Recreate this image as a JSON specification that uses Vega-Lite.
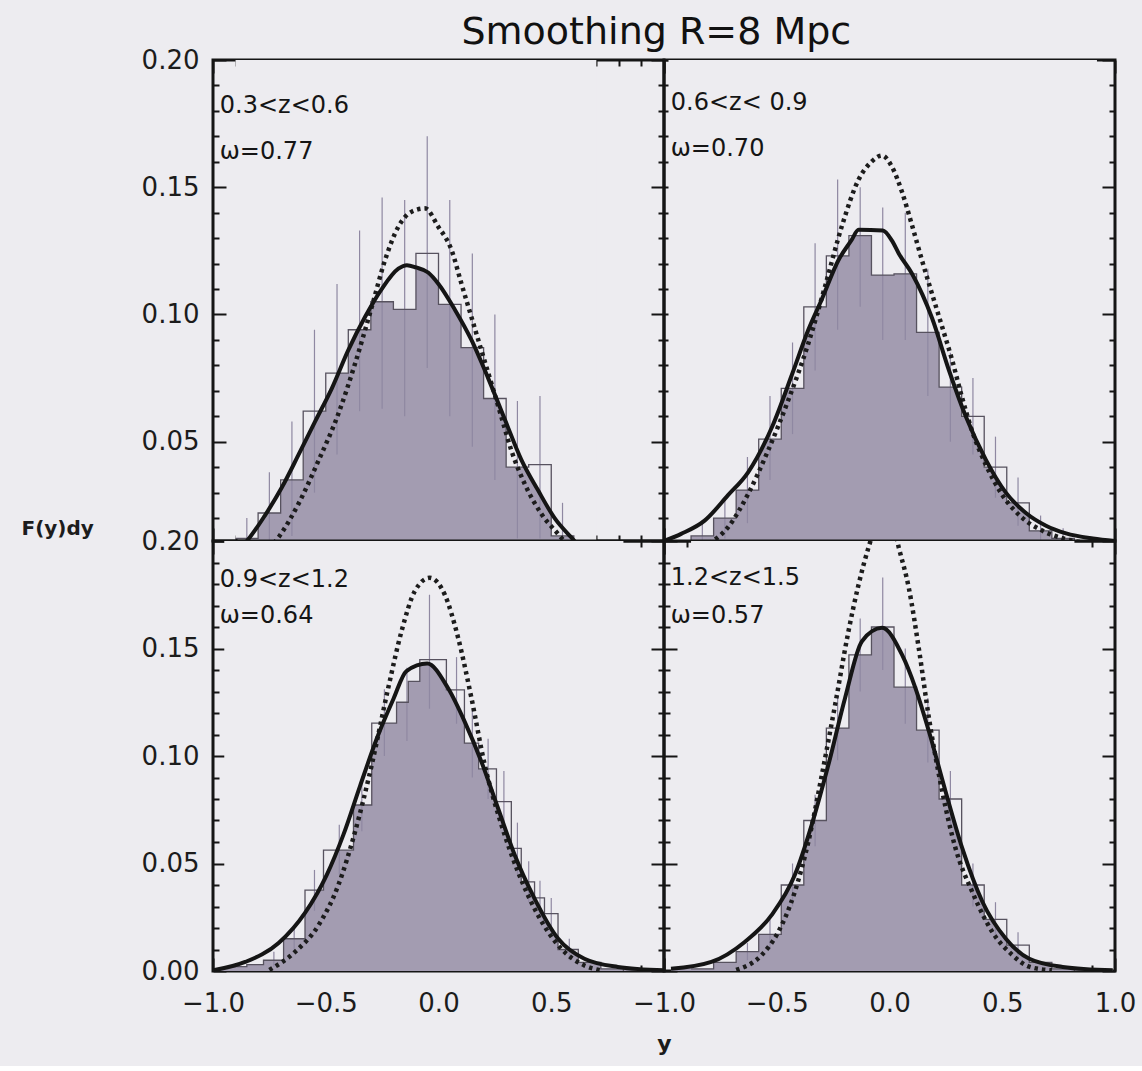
{
  "$schema": "https://vega.github.io/schema/vega-lite/v6.json",
  "background": "#EDECF0",
  "padding": {"left": 19, "top": 13, "right": 10, "bottom": 10},
  "title": {"text": "Smoothing R=8 Mpc", "font": "DejaVu Sans", "fontSize": 38, "fontWeight": "normal", "color": "#111111", "anchor": "middle", "offset": -6, "dx": 78},
  "config": {
    "view": {"stroke": "#151515", "strokeWidth": 3},
    "axis": {"domain": false, "grid": false, "tickColor": "#151515", "tickWidth": 2, "labelFont": "DejaVu Sans", "labelFontSize": 26, "labelColor": "#1c1c1c", "labelOverlap": false, "labelFlush": false, "labelBound": false, "titleFont": "DejaVu Sans", "titleColor": "#1c1c1c"}
  },
  "datasets": {
    "hist": [
      {"p":"TL","e":-0.9,"F":0.012},{"p":"TL","e":-0.8,"F":0.022},{"p":"TL","e":-0.7,"F":0.035},{"p":"TL","e":-0.6,"F":0.062},{"p":"TL","e":-0.5,"F":0.077},{"p":"TL","e":-0.4,"F":0.094},{"p":"TL","e":-0.3,"F":0.105},{"p":"TL","e":-0.2,"F":0.102},{"p":"TL","e":-0.1,"F":0.124},{"p":"TL","e":0.0,"F":0.104},{"p":"TL","e":0.1,"F":0.087},{"p":"TL","e":0.2,"F":0.067},{"p":"TL","e":0.3,"F":0.040},{"p":"TL","e":0.4,"F":0.041},{"p":"TL","e":0.5,"F":0.013},{"p":"TL","e":0.6,"F":0.005},{"p":"TL","e":0.7,"F":0},
      {"p":"TR","e":-0.98,"F":0.010},{"p":"TR","e":-0.88,"F":0.013},{"p":"TR","e":-0.78,"F":0.020},{"p":"TR","e":-0.68,"F":0.031},{"p":"TR","e":-0.58,"F":0.051},{"p":"TR","e":-0.48,"F":0.071},{"p":"TR","e":-0.38,"F":0.103},{"p":"TR","e":-0.28,"F":0.123},{"p":"TR","e":-0.18,"F":0.131},{"p":"TR","e":-0.08,"F":0.1155},{"p":"TR","e":0.02,"F":0.116},{"p":"TR","e":0.12,"F":0.093},{"p":"TR","e":0.22,"F":0.0715},{"p":"TR","e":0.32,"F":0.060},{"p":"TR","e":0.42,"F":0.040},{"p":"TR","e":0.52,"F":0.026},{"p":"TR","e":0.62,"F":0.015},{"p":"TR","e":0.72,"F":0.012},{"p":"TR","e":0.82,"F":0.011},{"p":"TR","e":0.92,"F":0},
      {"p":"BL","e":-0.95,"F":0.002},{"p":"BL","e":-0.85,"F":0.003},{"p":"BL","e":-0.776,"F":0.005},{"p":"BL","e":-0.687,"F":0.015},{"p":"BL","e":-0.592,"F":0.0376},{"p":"BL","e":-0.51,"F":0.0562},{"p":"BL","e":-0.377,"F":0.0772},{"p":"BL","e":-0.296,"F":0.1153},{"p":"BL","e":-0.186,"F":0.125},{"p":"BL","e":-0.134,"F":0.1347},{"p":"BL","e":-0.083,"F":0.1448},{"p":"BL","e":0.035,"F":0.1308},{"p":"BL","e":0.115,"F":0.106},{"p":"BL","e":0.178,"F":0.094},{"p":"BL","e":0.257,"F":0.0788},{"p":"BL","e":0.323,"F":0.057},{"p":"BL","e":0.367,"F":0.0415},{"p":"BL","e":0.426,"F":0.034},{"p":"BL","e":0.47,"F":0.0267},{"p":"BL","e":0.53,"F":0.010},{"p":"BL","e":0.62,"F":0.004},{"p":"BL","e":0.72,"F":0.001},{"p":"BL","e":0.82,"F":0},
      {"p":"BR","e":-0.88,"F":0.001},{"p":"BR","e":-0.78,"F":0.004},{"p":"BR","e":-0.68,"F":0.009},{"p":"BR","e":-0.58,"F":0.017},{"p":"BR","e":-0.48,"F":0.040},{"p":"BR","e":-0.38,"F":0.070},{"p":"BR","e":-0.28,"F":0.113},{"p":"BR","e":-0.18,"F":0.147},{"p":"BR","e":-0.08,"F":0.160},{"p":"BR","e":0.02,"F":0.132},{"p":"BR","e":0.12,"F":0.112},{"p":"BR","e":0.22,"F":0.080},{"p":"BR","e":0.32,"F":0.040},{"p":"BR","e":0.42,"F":0.024},{"p":"BR","e":0.52,"F":0.012},{"p":"BR","e":0.62,"F":0.004},{"p":"BR","e":0.72,"F":0.001},{"p":"BR","e":0.82,"F":0}
    ],
    "err": [
      {"p":"TL","x":-0.85,"lo":0.005,"hi":0.020},{"p":"TL","x":-0.75,"lo":0.008,"hi":0.038},{"p":"TL","x":-0.65,"lo":0.013,"hi":0.058},{"p":"TL","x":-0.55,"lo":0.030,"hi":0.094},{"p":"TL","x":-0.45,"lo":0.045,"hi":0.112},{"p":"TL","x":-0.35,"lo":0.062,"hi":0.133},{"p":"TL","x":-0.25,"lo":0.063,"hi":0.146},{"p":"TL","x":-0.15,"lo":0.060,"hi":0.145},{"p":"TL","x":-0.05,"lo":0.079,"hi":0.170},{"p":"TL","x":0.05,"lo":0.060,"hi":0.145},{"p":"TL","x":0.15,"lo":0.048,"hi":0.124},{"p":"TL","x":0.25,"lo":0.035,"hi":0.100},{"p":"TL","x":0.35,"lo":0.012,"hi":0.066},{"p":"TL","x":0.45,"lo":0.012,"hi":0.068},{"p":"TL","x":0.55,"lo":0.005,"hi":0.026},
      {"p":"TR","x":-0.83,"lo":0.007,"hi":0.019},{"p":"TR","x":-0.73,"lo":0.012,"hi":0.028},{"p":"TR","x":-0.63,"lo":0.018,"hi":0.044},{"p":"TR","x":-0.53,"lo":0.035,"hi":0.068},{"p":"TR","x":-0.43,"lo":0.053,"hi":0.089},{"p":"TR","x":-0.33,"lo":0.078,"hi":0.128},{"p":"TR","x":-0.23,"lo":0.094,"hi":0.153},{"p":"TR","x":-0.13,"lo":0.103,"hi":0.150},{"p":"TR","x":-0.03,"lo":0.090,"hi":0.142},{"p":"TR","x":0.07,"lo":0.090,"hi":0.140},{"p":"TR","x":0.17,"lo":0.068,"hi":0.118},{"p":"TR","x":0.27,"lo":0.050,"hi":0.085},{"p":"TR","x":0.37,"lo":0.045,"hi":0.075},{"p":"TR","x":0.47,"lo":0.028,"hi":0.052},{"p":"TR","x":0.57,"lo":0.017,"hi":0.036},{"p":"TR","x":0.67,"lo":0.009,"hi":0.021},{"p":"TR","x":0.77,"lo":0.008,"hi":0.016},
      {"p":"BL","x":-0.73,"lo":0.002,"hi":0.009},{"p":"BL","x":-0.64,"lo":0.009,"hi":0.021},{"p":"BL","x":-0.55,"lo":0.028,"hi":0.047},{"p":"BL","x":-0.44,"lo":0.045,"hi":0.068},{"p":"BL","x":-0.34,"lo":0.065,"hi":0.090},{"p":"BL","x":-0.24,"lo":0.100,"hi":0.131},{"p":"BL","x":-0.14,"lo":0.107,"hi":0.141},{"p":"BL","x":-0.04,"lo":0.122,"hi":0.175},{"p":"BL","x":0.08,"lo":0.115,"hi":0.146},{"p":"BL","x":0.15,"lo":0.090,"hi":0.122},{"p":"BL","x":0.22,"lo":0.080,"hi":0.108},{"p":"BL","x":0.29,"lo":0.065,"hi":0.093},{"p":"BL","x":0.35,"lo":0.045,"hi":0.069},{"p":"BL","x":0.40,"lo":0.032,"hi":0.051},{"p":"BL","x":0.45,"lo":0.026,"hi":0.042},{"p":"BL","x":0.50,"lo":0.019,"hi":0.034},{"p":"BL","x":0.58,"lo":0.005,"hi":0.015},
      {"p":"BR","x":-0.63,"lo":0.005,"hi":0.013},{"p":"BR","x":-0.53,"lo":0.010,"hi":0.024},{"p":"BR","x":-0.43,"lo":0.030,"hi":0.050},{"p":"BR","x":-0.33,"lo":0.058,"hi":0.082},{"p":"BR","x":-0.23,"lo":0.098,"hi":0.128},{"p":"BR","x":-0.13,"lo":0.130,"hi":0.164},{"p":"BR","x":-0.03,"lo":0.140,"hi":0.183},{"p":"BR","x":0.07,"lo":0.115,"hi":0.150},{"p":"BR","x":0.17,"lo":0.097,"hi":0.127},{"p":"BR","x":0.27,"lo":0.067,"hi":0.093},{"p":"BR","x":0.37,"lo":0.030,"hi":0.050},{"p":"BR","x":0.47,"lo":0.016,"hi":0.032},{"p":"BR","x":0.57,"lo":0.006,"hi":0.018}
    ],
    "curve": [
      {"p":"TL","k":"s","x":-0.95,"F":0.004},{"p":"TL","k":"s","x":-0.85,"F":0.011},{"p":"TL","k":"s","x":-0.77,"F":0.021},{"p":"TL","k":"s","x":-0.695,"F":0.032},{"p":"TL","k":"s","x":-0.62,"F":0.045},{"p":"TL","k":"s","x":-0.547,"F":0.058},{"p":"TL","k":"s","x":-0.473,"F":0.071},{"p":"TL","k":"s","x":-0.40,"F":0.086},{"p":"TL","k":"s","x":-0.326,"F":0.099},{"p":"TL","k":"s","x":-0.252,"F":0.110},{"p":"TL","k":"s","x":-0.178,"F":0.118},{"p":"TL","k":"s","x":-0.14,"F":0.1194},{"p":"TL","k":"s","x":-0.10,"F":0.1185},{"p":"TL","k":"s","x":-0.046,"F":0.1165},{"p":"TL","k":"s","x":0.0,"F":0.112},{"p":"TL","k":"s","x":0.072,"F":0.102},{"p":"TL","k":"s","x":0.146,"F":0.090},{"p":"TL","k":"s","x":0.22,"F":0.075},{"p":"TL","k":"s","x":0.293,"F":0.059},{"p":"TL","k":"s","x":0.367,"F":0.043},{"p":"TL","k":"s","x":0.441,"F":0.031},{"p":"TL","k":"s","x":0.515,"F":0.020},{"p":"TL","k":"s","x":0.588,"F":0.0125},{"p":"TL","k":"s","x":0.66,"F":0.006},{"p":"TL","k":"s","x":0.75,"F":0.002},
      {"p":"TL","k":"d","x":-0.80,"F":0.004},{"p":"TL","k":"d","x":-0.709,"F":0.0125},{"p":"TL","k":"d","x":-0.621,"F":0.0256},{"p":"TL","k":"d","x":-0.532,"F":0.0426},{"p":"TL","k":"d","x":-0.444,"F":0.061},{"p":"TL","k":"d","x":-0.37,"F":0.0807},{"p":"TL","k":"d","x":-0.296,"F":0.103},{"p":"TL","k":"d","x":-0.237,"F":0.1214},{"p":"TL","k":"d","x":-0.178,"F":0.1345},{"p":"TL","k":"d","x":-0.119,"F":0.1404},{"p":"TL","k":"d","x":-0.06,"F":0.1417},{"p":"TL","k":"d","x":-0.001,"F":0.1345},{"p":"TL","k":"d","x":0.058,"F":0.1253},{"p":"TL","k":"d","x":0.102,"F":0.112},{"p":"TL","k":"d","x":0.146,"F":0.099},{"p":"TL","k":"d","x":0.19,"F":0.086},{"p":"TL","k":"d","x":0.235,"F":0.0728},{"p":"TL","k":"d","x":0.279,"F":0.0597},{"p":"TL","k":"d","x":0.323,"F":0.0466},{"p":"TL","k":"d","x":0.382,"F":0.0335},{"p":"TL","k":"d","x":0.456,"F":0.0217},{"p":"TL","k":"d","x":0.53,"F":0.0138},{"p":"TL","k":"d","x":0.60,"F":0.007},{"p":"TL","k":"d","x":0.68,"F":0.003},
      {"p":"TR","k":"s","x":-1.0,"F":0.011},{"p":"TR","k":"s","x":-0.924,"F":0.0138},{"p":"TR","k":"s","x":-0.82,"F":0.019},{"p":"TR","k":"s","x":-0.716,"F":0.029},{"p":"TR","k":"s","x":-0.627,"F":0.038},{"p":"TR","k":"s","x":-0.52,"F":0.056},{"p":"TR","k":"s","x":-0.43,"F":0.077},{"p":"TR","k":"s","x":-0.36,"F":0.094},{"p":"TR","k":"s","x":-0.30,"F":0.106},{"p":"TR","k":"s","x":-0.226,"F":0.1214},{"p":"TR","k":"s","x":-0.17,"F":0.129},{"p":"TR","k":"s","x":-0.137,"F":0.1333},{"p":"TR","k":"s","x":-0.03,"F":0.1330},{"p":"TR","k":"s","x":0.011,"F":0.129},{"p":"TR","k":"s","x":0.041,"F":0.124},{"p":"TR","k":"s","x":0.1,"F":0.116},{"p":"TR","k":"s","x":0.189,"F":0.0985},{"p":"TR","k":"s","x":0.264,"F":0.078},{"p":"TR","k":"s","x":0.338,"F":0.060},{"p":"TR","k":"s","x":0.427,"F":0.043},{"p":"TR","k":"s","x":0.516,"F":0.030},{"p":"TR","k":"s","x":0.605,"F":0.022},{"p":"TR","k":"s","x":0.694,"F":0.017},{"p":"TR","k":"s","x":0.783,"F":0.014},{"p":"TR","k":"s","x":0.902,"F":0.012},{"p":"TR","k":"s","x":1.0,"F":0.011},
      {"p":"TR","k":"d","x":-0.80,"F":0.010},{"p":"TR","k":"d","x":-0.716,"F":0.0164},{"p":"TR","k":"d","x":-0.627,"F":0.0295},{"p":"TR","k":"d","x":-0.538,"F":0.0466},{"p":"TR","k":"d","x":-0.449,"F":0.0663},{"p":"TR","k":"d","x":-0.36,"F":0.0886},{"p":"TR","k":"d","x":-0.286,"F":0.111},{"p":"TR","k":"d","x":-0.212,"F":0.1345},{"p":"TR","k":"d","x":-0.137,"F":0.153},{"p":"TR","k":"d","x":-0.08,"F":0.160},{"p":"TR","k":"d","x":-0.033,"F":0.1625},{"p":"TR","k":"d","x":0.011,"F":0.158},{"p":"TR","k":"d","x":0.056,"F":0.148},{"p":"TR","k":"d","x":0.1,"F":0.135},{"p":"TR","k":"d","x":0.145,"F":0.121},{"p":"TR","k":"d","x":0.189,"F":0.108},{"p":"TR","k":"d","x":0.234,"F":0.095},{"p":"TR","k":"d","x":0.278,"F":0.082},{"p":"TR","k":"d","x":0.323,"F":0.067},{"p":"TR","k":"d","x":0.367,"F":0.054},{"p":"TR","k":"d","x":0.427,"F":0.041},{"p":"TR","k":"d","x":0.501,"F":0.029},{"p":"TR","k":"d","x":0.59,"F":0.020},{"p":"TR","k":"d","x":0.679,"F":0.015},{"p":"TR","k":"d","x":0.78,"F":0.0118},{"p":"TR","k":"d","x":0.85,"F":0.0105},
      {"p":"BL","k":"s","x":-1.0,"F":0.0003},{"p":"BL","k":"s","x":-0.857,"F":0.0042},{"p":"BL","k":"s","x":-0.709,"F":0.013},{"p":"BL","k":"s","x":-0.592,"F":0.027},{"p":"BL","k":"s","x":-0.496,"F":0.0446},{"p":"BL","k":"s","x":-0.422,"F":0.0633},{"p":"BL","k":"s","x":-0.348,"F":0.086},{"p":"BL","k":"s","x":-0.274,"F":0.108},{"p":"BL","k":"s","x":-0.20,"F":0.1265},{"p":"BL","k":"s","x":-0.142,"F":0.1395},{"p":"BL","k":"s","x":-0.05,"F":0.1430},{"p":"BL","k":"s","x":0.042,"F":0.1316},{"p":"BL","k":"s","x":0.116,"F":0.116},{"p":"BL","k":"s","x":0.19,"F":0.0974},{"p":"BL","k":"s","x":0.264,"F":0.0757},{"p":"BL","k":"s","x":0.338,"F":0.054},{"p":"BL","k":"s","x":0.426,"F":0.0337},{"p":"BL","k":"s","x":0.53,"F":0.0151},{"p":"BL","k":"s","x":0.647,"F":0.0057},{"p":"BL","k":"s","x":0.795,"F":0.0019},{"p":"BL","k":"s","x":1.0,"F":0.0003},
      {"p":"BL","k":"d","x":-0.75,"F":0.0005},{"p":"BL","k":"d","x":-0.636,"F":0.0089},{"p":"BL","k":"d","x":-0.532,"F":0.0213},{"p":"BL","k":"d","x":-0.444,"F":0.040},{"p":"BL","k":"d","x":-0.37,"F":0.0648},{"p":"BL","k":"d","x":-0.296,"F":0.0959},{"p":"BL","k":"d","x":-0.223,"F":0.1316},{"p":"BL","k":"d","x":-0.164,"F":0.158},{"p":"BL","k":"d","x":-0.105,"F":0.1767},{"p":"BL","k":"d","x":-0.039,"F":0.1829},{"p":"BL","k":"d","x":0.028,"F":0.175},{"p":"BL","k":"d","x":0.087,"F":0.155},{"p":"BL","k":"d","x":0.146,"F":0.127},{"p":"BL","k":"d","x":0.205,"F":0.0959},{"p":"BL","k":"d","x":0.279,"F":0.068},{"p":"BL","k":"d","x":0.353,"F":0.046},{"p":"BL","k":"d","x":0.441,"F":0.026},{"p":"BL","k":"d","x":0.544,"F":0.0104},{"p":"BL","k":"d","x":0.647,"F":0.0026},{"p":"BL","k":"d","x":0.72,"F":0.0003},
      {"p":"BR","k":"s","x":-0.969,"F":0.001},{"p":"BR","k":"s","x":-0.79,"F":0.0042},{"p":"BR","k":"s","x":-0.642,"F":0.0135},{"p":"BR","k":"s","x":-0.523,"F":0.026},{"p":"BR","k":"s","x":-0.42,"F":0.0446},{"p":"BR","k":"s","x":-0.345,"F":0.068},{"p":"BR","k":"s","x":-0.271,"F":0.0959},{"p":"BR","k":"s","x":-0.197,"F":0.127},{"p":"BR","k":"s","x":-0.122,"F":0.1534},{"p":"BR","k":"s","x":-0.033,"F":0.1596},{"p":"BR","k":"s","x":0.056,"F":0.147},{"p":"BR","k":"s","x":0.115,"F":0.1316},{"p":"BR","k":"s","x":0.175,"F":0.1114},{"p":"BR","k":"s","x":0.249,"F":0.0834},{"p":"BR","k":"s","x":0.323,"F":0.057},{"p":"BR","k":"s","x":0.412,"F":0.0322},{"p":"BR","k":"s","x":0.516,"F":0.015},{"p":"BR","k":"s","x":0.62,"F":0.0057},{"p":"BR","k":"s","x":0.768,"F":0.0019},{"p":"BR","k":"s","x":0.99,"F":0.0003},
      {"p":"BR","k":"d","x":-0.68,"F":0.0005},{"p":"BR","k":"d","x":-0.568,"F":0.0073},{"p":"BR","k":"d","x":-0.494,"F":0.018},{"p":"BR","k":"d","x":-0.42,"F":0.0368},{"p":"BR","k":"d","x":-0.36,"F":0.060},{"p":"BR","k":"d","x":-0.30,"F":0.0912},{"p":"BR","k":"d","x":-0.241,"F":0.1239},{"p":"BR","k":"d","x":-0.182,"F":0.158},{"p":"BR","k":"d","x":-0.137,"F":0.1798},{"p":"BR","k":"d","x":-0.093,"F":0.197},{"p":"BR","k":"d","x":-0.05,"F":0.210},{"p":"BR","k":"d","x":-0.02,"F":0.214},{"p":"BR","k":"d","x":0.01,"F":0.210},{"p":"BR","k":"d","x":0.041,"F":0.197},{"p":"BR","k":"d","x":0.086,"F":0.178},{"p":"BR","k":"d","x":0.13,"F":0.150},{"p":"BR","k":"d","x":0.175,"F":0.1176},{"p":"BR","k":"d","x":0.234,"F":0.0834},{"p":"BR","k":"d","x":0.293,"F":0.057},{"p":"BR","k":"d","x":0.367,"F":0.0368},{"p":"BR","k":"d","x":0.457,"F":0.018},{"p":"BR","k":"d","x":0.546,"F":0.0073},{"p":"BR","k":"d","x":0.62,"F":0.002},{"p":"BR","k":"d","x":0.72,"F":0.0003}
    ],
    "labels": [
      {"p":"TL","zr":"0.3<z<0.6","om":"ω=0.77"},
      {"p":"TR","zr":"0.6<z< 0.9","om":"ω=0.70"},
      {"p":"BL","zr":"0.9<z<1.2","om":"ω=0.64"},
      {"p":"BR","zr":"1.2<z<1.5","om":"ω=0.57"}
    ]
  },
  "concat": [
    {
      "width": 451, "height": 481,
      "resolve": {"axis": {"x": "independent", "y": "independent"}},
      "layer": [
        {"data": {"name": "curve"}, "transform": [{"filter": "datum.p == 'TL' && datum.k == 's'"}],
         "mark": {"type": "area", "interpolate": "monotone", "color": "#A39CB1", "clip": true},
         "encoding": {
           "x": {"field": "x", "type": "quantitative", "scale": {"domain": [-1, 1], "nice": false}, "axis": {"orient": "bottom", "values": [-1,-0.9,-0.8,-0.7,-0.6,-0.5,-0.4,-0.3,-0.2,-0.1,0,0.1,0.2,0.3,0.4,0.5,0.6,0.7,0.8,0.9,1], "labels": false, "title": null, "tickSize": {"condition": {"test": "abs(datum.value*2 - round(datum.value*2)) < 0.001", "value": -13}, "value": -6}}},
           "y": {"field": "F", "type": "quantitative", "scale": {"domain": [0.011, 0.2], "nice": false, "zero": false}, "axis": {"orient": "left", "values": [0.02,0.03,0.04,0.05,0.06,0.07,0.08,0.09,0.1,0.11,0.12,0.13,0.14,0.15,0.16,0.17,0.18,0.19,0.2], "title": null, "labelPadding": 27, "labelExpr": "abs(datum.value*20 - round(datum.value*20)) < 0.001 ? format(datum.value, '.2f') : ''", "tickSize": {"condition": {"test": "abs(datum.value*20 - round(datum.value*20)) < 0.001", "value": -13}, "value": -6}}}
         }},
        {"data": {"name": "hist"}, "transform": [{"filter": "datum.p == 'TL'"}],
         "mark": {"type": "area", "interpolate": "step-after", "color": "#EDECF0", "clip": true},
         "encoding": {"x": {"field": "e", "type": "quantitative", "axis": null}, "y": {"field": "F", "type": "quantitative", "axis": null}, "y2": {"datum": 0.2}}},
        {"data": {"name": "err"}, "transform": [{"filter": "datum.p == 'TL'"}],
         "mark": {"type": "rule", "color": "#8F88A2", "strokeWidth": 1.2, "clip": true},
         "encoding": {"x": {"field": "x", "type": "quantitative", "axis": null}, "y": {"field": "lo", "type": "quantitative", "axis": null}, "y2": {"field": "hi"}}},
        {"data": {"name": "hist"}, "transform": [{"filter": "datum.p == 'TL'"}],
         "mark": {"type": "line", "interpolate": "step-after", "color": "#57525f", "strokeWidth": 1.3, "clip": true},
         "encoding": {
           "x": {"field": "e", "type": "quantitative", "axis": {"orient": "top", "values": [-1,-0.9,-0.8,-0.7,-0.6,-0.5,-0.4,-0.3,-0.2,-0.1,0,0.1,0.2,0.3,0.4,0.5,0.6,0.7,0.8,0.9,1], "labels": false, "title": null, "tickSize": {"condition": {"test": "abs(datum.value*2 - round(datum.value*2)) < 0.001", "value": -13}, "value": -6}}},
           "y": {"field": "F", "type": "quantitative", "axis": {"orient": "right", "values": [0.02,0.03,0.04,0.05,0.06,0.07,0.08,0.09,0.1,0.11,0.12,0.13,0.14,0.15,0.16,0.17,0.18,0.19,0.2], "labels": false, "title": null, "tickSize": {"condition": {"test": "abs(datum.value*20 - round(datum.value*20)) < 0.001", "value": -13}, "value": -6}}}
         }},
        {"data": {"name": "curve"}, "transform": [{"filter": "datum.p == 'TL' && datum.k == 'd'"}],
         "mark": {"type": "line", "interpolate": "monotone", "color": "#1c1c1c", "strokeWidth": 4.5, "strokeDash": [3.5, 4], "clip": true},
         "encoding": {"x": {"field": "x", "type": "quantitative", "axis": null}, "y": {"field": "F", "type": "quantitative", "axis": null}}},
        {"data": {"name": "curve"}, "transform": [{"filter": "datum.p == 'TL' && datum.k == 's'"}],
         "mark": {"type": "line", "interpolate": "monotone", "color": "#151515", "strokeWidth": 4, "clip": true},
         "encoding": {"x": {"field": "x", "type": "quantitative", "axis": null}, "y": {"field": "F", "type": "quantitative", "axis": null}}},
        {"data": {"name": "labels"}, "transform": [{"filter": "datum.p == 'TL'"}],
         "mark": {"type": "text", "align": "left", "baseline": "middle", "font": "DejaVu Sans", "fontSize": 24, "color": "#151515"},
         "encoding": {"x": {"datum": -0.97, "axis": null}, "y": {"datum": 0.182, "axis": null}, "text": {"field": "zr"}}},
        {"data": {"name": "labels"}, "transform": [{"filter": "datum.p == 'TL'"}],
         "mark": {"type": "text", "align": "left", "baseline": "middle", "font": "DejaVu Sans", "fontSize": 24, "color": "#151515"},
         "encoding": {"x": {"datum": -0.97, "axis": null}, "y": {"datum": 0.164, "axis": null}, "text": {"field": "om"}}}
      ]
    },
    {
      "width": 451, "height": 481,
      "resolve": {"axis": {"x": "independent", "y": "independent"}},
      "layer": [
        {"data": {"name": "curve"}, "transform": [{"filter": "datum.p == 'TR' && datum.k == 's'"}],
         "mark": {"type": "area", "interpolate": "monotone", "color": "#A39CB1", "clip": true},
         "encoding": {
           "x": {"field": "x", "type": "quantitative", "scale": {"domain": [-1, 1], "nice": false}, "axis": {"orient": "bottom", "values": [-1,-0.9,-0.8,-0.7,-0.6,-0.5,-0.4,-0.3,-0.2,-0.1,0,0.1,0.2,0.3,0.4,0.5,0.6,0.7,0.8,0.9,1], "labels": false, "title": null, "tickSize": {"condition": {"test": "abs(datum.value*2 - round(datum.value*2)) < 0.001", "value": -13}, "value": -6}}},
           "y": {"field": "F", "type": "quantitative", "scale": {"domain": [0.011, 0.2], "nice": false, "zero": false}, "axis": {"orient": "left", "values": [0.02,0.03,0.04,0.05,0.06,0.07,0.08,0.09,0.1,0.11,0.12,0.13,0.14,0.15,0.16,0.17,0.18,0.19,0.2], "labels": false, "title": null, "tickSize": {"condition": {"test": "abs(datum.value*20 - round(datum.value*20)) < 0.001", "value": -13}, "value": -6}}}
         }},
        {"data": {"name": "hist"}, "transform": [{"filter": "datum.p == 'TR'"}],
         "mark": {"type": "area", "interpolate": "step-after", "color": "#EDECF0", "clip": true},
         "encoding": {"x": {"field": "e", "type": "quantitative", "axis": null}, "y": {"field": "F", "type": "quantitative", "axis": null}, "y2": {"datum": 0.2}}},
        {"data": {"name": "err"}, "transform": [{"filter": "datum.p == 'TR'"}],
         "mark": {"type": "rule", "color": "#8F88A2", "strokeWidth": 1.2, "clip": true},
         "encoding": {"x": {"field": "x", "type": "quantitative", "axis": null}, "y": {"field": "lo", "type": "quantitative", "axis": null}, "y2": {"field": "hi"}}},
        {"data": {"name": "hist"}, "transform": [{"filter": "datum.p == 'TR'"}],
         "mark": {"type": "line", "interpolate": "step-after", "color": "#57525f", "strokeWidth": 1.3, "clip": true},
         "encoding": {
           "x": {"field": "e", "type": "quantitative", "axis": {"orient": "top", "values": [-1,-0.9,-0.8,-0.7,-0.6,-0.5,-0.4,-0.3,-0.2,-0.1,0,0.1,0.2,0.3,0.4,0.5,0.6,0.7,0.8,0.9,1], "labels": false, "title": null, "tickSize": {"condition": {"test": "abs(datum.value*2 - round(datum.value*2)) < 0.001", "value": -13}, "value": -6}}},
           "y": {"field": "F", "type": "quantitative", "axis": {"orient": "right", "values": [0.02,0.03,0.04,0.05,0.06,0.07,0.08,0.09,0.1,0.11,0.12,0.13,0.14,0.15,0.16,0.17,0.18,0.19,0.2], "labels": false, "title": null, "tickSize": {"condition": {"test": "abs(datum.value*20 - round(datum.value*20)) < 0.001", "value": -13}, "value": -6}}}
         }},
        {"data": {"name": "curve"}, "transform": [{"filter": "datum.p == 'TR' && datum.k == 'd'"}],
         "mark": {"type": "line", "interpolate": "monotone", "color": "#1c1c1c", "strokeWidth": 4.5, "strokeDash": [3.5, 4], "clip": true},
         "encoding": {"x": {"field": "x", "type": "quantitative", "axis": null}, "y": {"field": "F", "type": "quantitative", "axis": null}}},
        {"data": {"name": "curve"}, "transform": [{"filter": "datum.p == 'TR' && datum.k == 's'"}],
         "mark": {"type": "line", "interpolate": "monotone", "color": "#151515", "strokeWidth": 4, "clip": true},
         "encoding": {"x": {"field": "x", "type": "quantitative", "axis": null}, "y": {"field": "F", "type": "quantitative", "axis": null}}},
        {"data": {"name": "labels"}, "transform": [{"filter": "datum.p == 'TR'"}],
         "mark": {"type": "text", "align": "left", "baseline": "middle", "font": "DejaVu Sans", "fontSize": 24, "color": "#151515"},
         "encoding": {"x": {"datum": -0.97, "axis": null}, "y": {"datum": 0.183, "axis": null}, "text": {"field": "zr"}}},
        {"data": {"name": "labels"}, "transform": [{"filter": "datum.p == 'TR'"}],
         "mark": {"type": "text", "align": "left", "baseline": "middle", "font": "DejaVu Sans", "fontSize": 24, "color": "#151515"},
         "encoding": {"x": {"datum": -0.97, "axis": null}, "y": {"datum": 0.165, "axis": null}, "text": {"field": "om"}}}
      ]
    },
    {
      "width": 451, "height": 430,
      "resolve": {"axis": {"x": "independent", "y": "independent"}},
      "layer": [
        {"data": {"name": "curve"}, "transform": [{"filter": "datum.p == 'BL' && datum.k == 's'"}],
         "mark": {"type": "area", "interpolate": "monotone", "color": "#A39CB1", "clip": true},
         "encoding": {
           "x": {"field": "x", "type": "quantitative", "scale": {"domain": [-1, 1], "nice": false}, "axis": {"orient": "bottom", "values": [-1,-0.9,-0.8,-0.7,-0.6,-0.5,-0.4,-0.3,-0.2,-0.1,0,0.1,0.2,0.3,0.4,0.5,0.6,0.7,0.8,0.9,1], "labelPadding": 32, "labelExpr": "abs(datum.value*2 - round(datum.value*2)) < 0.001 && datum.value < 0.99 ? format(datum.value, '.1f') : ''", "title": "y", "titleX": 451, "titleY": 72, "titleAlign": "center", "titleBaseline": "middle", "titleFontSize": 22, "titleFontWeight": "bold", "tickSize": {"condition": {"test": "abs(datum.value*2 - round(datum.value*2)) < 0.001", "value": -13}, "value": -6}}},
           "y": {"field": "F", "type": "quantitative", "scale": {"domain": [0, 0.2], "nice": false}, "axis": {"orient": "left", "values": [0,0.01,0.02,0.03,0.04,0.05,0.06,0.07,0.08,0.09,0.1,0.11,0.12,0.13,0.14,0.15,0.16,0.17,0.18,0.19,0.2], "labelPadding": 27, "labelExpr": "abs(datum.value*20 - round(datum.value*20)) < 0.001 ? format(datum.value, '.2f') : ''", "title": "F(y)dy", "titleAngle": 0, "titleX": -192, "titleY": -13, "titleAlign": "left", "titleBaseline": "middle", "titleFontSize": 20, "titleFontWeight": "bold", "tickSize": {"condition": {"test": "abs(datum.value*20 - round(datum.value*20)) < 0.001", "value": -13}, "value": -6}}}
         }},
        {"data": {"name": "hist"}, "transform": [{"filter": "datum.p == 'BL'"}],
         "mark": {"type": "area", "interpolate": "step-after", "color": "#EDECF0", "clip": true},
         "encoding": {"x": {"field": "e", "type": "quantitative", "axis": null}, "y": {"field": "F", "type": "quantitative", "axis": null}, "y2": {"datum": 0.2}}},
        {"data": {"name": "err"}, "transform": [{"filter": "datum.p == 'BL'"}],
         "mark": {"type": "rule", "color": "#8F88A2", "strokeWidth": 1.2, "clip": true},
         "encoding": {"x": {"field": "x", "type": "quantitative", "axis": null}, "y": {"field": "lo", "type": "quantitative", "axis": null}, "y2": {"field": "hi"}}},
        {"data": {"name": "hist"}, "transform": [{"filter": "datum.p == 'BL'"}],
         "mark": {"type": "line", "interpolate": "step-after", "color": "#57525f", "strokeWidth": 1.3, "clip": true},
         "encoding": {
           "x": {"field": "e", "type": "quantitative", "axis": {"orient": "top", "values": [-1,-0.9,-0.8,-0.7,-0.6,-0.5,-0.4,-0.3,-0.2,-0.1,0,0.1,0.2,0.3,0.4,0.5,0.6,0.7,0.8,0.9,1], "labels": false, "title": null, "tickSize": {"condition": {"test": "abs(datum.value*2 - round(datum.value*2)) < 0.001", "value": -13}, "value": -6}}},
           "y": {"field": "F", "type": "quantitative", "axis": {"orient": "right", "values": [0,0.01,0.02,0.03,0.04,0.05,0.06,0.07,0.08,0.09,0.1,0.11,0.12,0.13,0.14,0.15,0.16,0.17,0.18,0.19,0.2], "labels": false, "title": null, "tickSize": {"condition": {"test": "abs(datum.value*20 - round(datum.value*20)) < 0.001", "value": -13}, "value": -6}}}
         }},
        {"data": {"name": "curve"}, "transform": [{"filter": "datum.p == 'BL' && datum.k == 'd'"}],
         "mark": {"type": "line", "interpolate": "monotone", "color": "#1c1c1c", "strokeWidth": 4.5, "strokeDash": [3.5, 4], "clip": true},
         "encoding": {"x": {"field": "x", "type": "quantitative", "axis": null}, "y": {"field": "F", "type": "quantitative", "axis": null}}},
        {"data": {"name": "curve"}, "transform": [{"filter": "datum.p == 'BL' && datum.k == 's'"}],
         "mark": {"type": "line", "interpolate": "monotone", "color": "#151515", "strokeWidth": 4, "clip": true},
         "encoding": {"x": {"field": "x", "type": "quantitative", "axis": null}, "y": {"field": "F", "type": "quantitative", "axis": null}}},
        {"data": {"name": "labels"}, "transform": [{"filter": "datum.p == 'BL'"}],
         "mark": {"type": "text", "align": "left", "baseline": "middle", "font": "DejaVu Sans", "fontSize": 24, "color": "#151515"},
         "encoding": {"x": {"datum": -0.97, "axis": null}, "y": {"datum": 0.182, "axis": null}, "text": {"field": "zr"}}},
        {"data": {"name": "labels"}, "transform": [{"filter": "datum.p == 'BL'"}],
         "mark": {"type": "text", "align": "left", "baseline": "middle", "font": "DejaVu Sans", "fontSize": 24, "color": "#151515"},
         "encoding": {"x": {"datum": -0.97, "axis": null}, "y": {"datum": 0.165, "axis": null}, "text": {"field": "om"}}}
      ]
    },
    {
      "width": 451, "height": 430,
      "resolve": {"axis": {"x": "independent", "y": "independent"}},
      "layer": [
        {"data": {"name": "curve"}, "transform": [{"filter": "datum.p == 'BR' && datum.k == 's'"}],
         "mark": {"type": "area", "interpolate": "monotone", "color": "#A39CB1", "clip": true},
         "encoding": {
           "x": {"field": "x", "type": "quantitative", "scale": {"domain": [-1, 1], "nice": false}, "axis": {"orient": "bottom", "values": [-1,-0.9,-0.8,-0.7,-0.6,-0.5,-0.4,-0.3,-0.2,-0.1,0,0.1,0.2,0.3,0.4,0.5,0.6,0.7,0.8,0.9,1], "labelPadding": 32, "labelExpr": "abs(datum.value*2 - round(datum.value*2)) < 0.001 ? format(datum.value, '.1f') : ''", "title": null, "tickSize": {"condition": {"test": "abs(datum.value*2 - round(datum.value*2)) < 0.001", "value": -13}, "value": -6}}},
           "y": {"field": "F", "type": "quantitative", "scale": {"domain": [0, 0.2], "nice": false}, "axis": {"orient": "left", "values": [0,0.01,0.02,0.03,0.04,0.05,0.06,0.07,0.08,0.09,0.1,0.11,0.12,0.13,0.14,0.15,0.16,0.17,0.18,0.19,0.2], "labels": false, "title": null, "tickSize": {"condition": {"test": "abs(datum.value*20 - round(datum.value*20)) < 0.001", "value": -13}, "value": -6}}}
         }},
        {"data": {"name": "hist"}, "transform": [{"filter": "datum.p == 'BR'"}],
         "mark": {"type": "area", "interpolate": "step-after", "color": "#EDECF0", "clip": true},
         "encoding": {"x": {"field": "e", "type": "quantitative", "axis": null}, "y": {"field": "F", "type": "quantitative", "axis": null}, "y2": {"datum": 0.2}}},
        {"data": {"name": "err"}, "transform": [{"filter": "datum.p == 'BR'"}],
         "mark": {"type": "rule", "color": "#8F88A2", "strokeWidth": 1.2, "clip": true},
         "encoding": {"x": {"field": "x", "type": "quantitative", "axis": null}, "y": {"field": "lo", "type": "quantitative", "axis": null}, "y2": {"field": "hi"}}},
        {"data": {"name": "hist"}, "transform": [{"filter": "datum.p == 'BR'"}],
         "mark": {"type": "line", "interpolate": "step-after", "color": "#57525f", "strokeWidth": 1.3, "clip": true},
         "encoding": {
           "x": {"field": "e", "type": "quantitative", "axis": {"orient": "top", "values": [-1,-0.9,-0.8,-0.7,-0.6,-0.5,-0.4,-0.3,-0.2,-0.1,0,0.1,0.2,0.3,0.4,0.5,0.6,0.7,0.8,0.9,1], "labels": false, "title": null, "tickSize": {"condition": {"test": "abs(datum.value*2 - round(datum.value*2)) < 0.001", "value": -13}, "value": -6}}},
           "y": {"field": "F", "type": "quantitative", "axis": {"orient": "right", "values": [0,0.01,0.02,0.03,0.04,0.05,0.06,0.07,0.08,0.09,0.1,0.11,0.12,0.13,0.14,0.15,0.16,0.17,0.18,0.19,0.2], "labels": false, "title": null, "tickSize": {"condition": {"test": "abs(datum.value*20 - round(datum.value*20)) < 0.001", "value": -13}, "value": -6}}}
         }},
        {"data": {"name": "curve"}, "transform": [{"filter": "datum.p == 'BR' && datum.k == 'd'"}],
         "mark": {"type": "line", "interpolate": "monotone", "color": "#1c1c1c", "strokeWidth": 4.5, "strokeDash": [3.5, 4], "clip": true},
         "encoding": {"x": {"field": "x", "type": "quantitative", "axis": null}, "y": {"field": "F", "type": "quantitative", "axis": null}}},
        {"data": {"name": "curve"}, "transform": [{"filter": "datum.p == 'BR' && datum.k == 's'"}],
         "mark": {"type": "line", "interpolate": "monotone", "color": "#151515", "strokeWidth": 4, "clip": true},
         "encoding": {"x": {"field": "x", "type": "quantitative", "axis": null}, "y": {"field": "F", "type": "quantitative", "axis": null}}},
        {"data": {"name": "labels"}, "transform": [{"filter": "datum.p == 'BR'"}],
         "mark": {"type": "text", "align": "left", "baseline": "middle", "font": "DejaVu Sans", "fontSize": 24, "color": "#151515"},
         "encoding": {"x": {"datum": -0.97, "axis": null}, "y": {"datum": 0.183, "axis": null}, "text": {"field": "zr"}}},
        {"data": {"name": "labels"}, "transform": [{"filter": "datum.p == 'BR'"}],
         "mark": {"type": "text", "align": "left", "baseline": "middle", "font": "DejaVu Sans", "fontSize": 24, "color": "#151515"},
         "encoding": {"x": {"datum": -0.97, "axis": null}, "y": {"datum": 0.165, "axis": null}, "text": {"field": "om"}}}
      ]
    }
  ],
  "columns": 2,
  "spacing": 0,
  "bounds": "flush"
}
